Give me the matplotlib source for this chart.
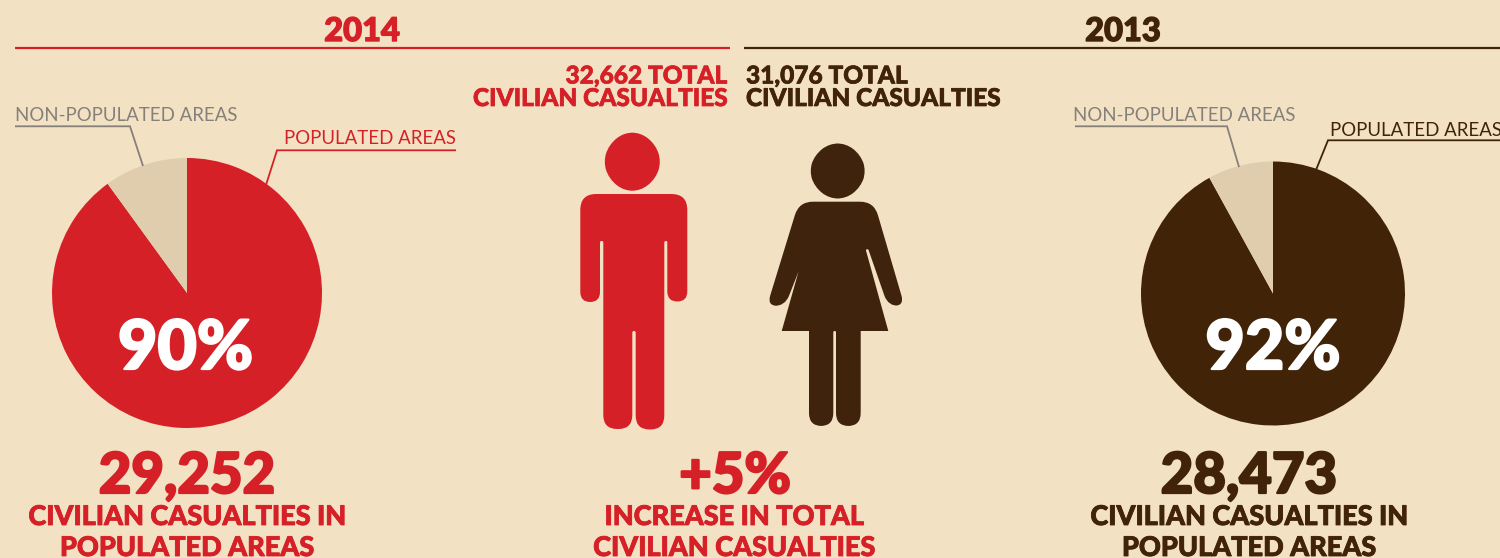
import numpy as np
import matplotlib
matplotlib.use("Agg")
import matplotlib.pyplot as plt
import matplotlib.patheffects as pe
from matplotlib.path import Path
from matplotlib.patches import PathPatch

W, H = 1500, 558
BG = "#F3E1C3"
RED = "#D62027"
BROWN = "#412307"
BROWN_ICON = "#3F230D"
WEDGE = "#E0CDAE"
GREY = "#85807A"

years = ["2014", "2013"]
populated_share = [90, 92]
non_populated_share = [10, 8]
total_casualties = ["32,662", "31,076"]
populated_casualties = ["29,252", "28,473"]
increase_label = "+5%"

HEAVY = dict(family="Lato", weight="black")
LIGHT = dict(family="Lato", weight="normal")

fig = plt.figure(figsize=(W / 100, H / 100), dpi=100, facecolor=BG)
ax = fig.add_axes([0, 0, 1, 1])
ax.set_facecolor(BG)


def Y(y):
    return H - y


def label(x, y, s, color, size, ha="center", font=HEAVY, stroke=0.0):
    t = ax.text(x, Y(y), s, color=color, fontsize=size, ha=ha, va="baseline", **font)
    if stroke:
        t.set_path_effects([pe.withStroke(linewidth=stroke, foreground=color)])


def line(xs, ys, color, lw=1.3):
    ax.plot(xs, [Y(v) for v in ys], color=color, lw=lw, solid_capstyle="butt",
            solid_joinstyle="miter")


def rounded_path(points):
    """Closed outline from (x, y, corner radius) triples, in top-down pixels."""
    verts, codes = [], []
    n = len(points)
    for i, (x, y, r) in enumerate(points):
        p = np.array([x, Y(y)], float)
        a = np.array([points[i - 1][0], Y(points[i - 1][1])], float)
        b = np.array([points[(i + 1) % n][0], Y(points[(i + 1) % n][1])], float)
        ua = (a - p) / np.linalg.norm(a - p)
        ub = (b - p) / np.linalg.norm(b - p)
        start = p + ua * r
        end = p + ub * r
        verts.append(start)
        codes.append(Path.MOVETO if i == 0 else Path.LINETO)
        if r > 0:
            verts += [p, end]
            codes += [Path.CURVE3, Path.CURVE3]
    verts.append(verts[0])
    codes.append(Path.CLOSEPOLY)
    return Path(verts, codes)


def head(cx, cy, rx, ry):
    """Slightly squared-off head built from a rounded outline."""
    k = 0.84
    pts = [
        (cx - rx * 0.3, cy - ry * 1.02, 9), (cx + rx * 0.3, cy - ry * 1.02, 9),
        (cx + rx * k, cy - ry * 0.6, 10), (cx + rx * 1.03, cy, 9),
        (cx + rx * k, cy + ry * 0.6, 10), (cx + rx * 0.3, cy + ry * 1.02, 9),
        (cx - rx * 0.3, cy + ry * 1.02, 9), (cx - rx * k, cy + ry * 0.6, 10),
        (cx - rx * 1.03, cy, 9), (cx - rx * k, cy - ry * 0.6, 10),
    ]
    return rounded_path(pts)


# Pies
for share, rest, c, cx, cy, r in [
    (populated_share[0], non_populated_share[0], RED, 187, 293, 135),
    (populated_share[1], non_populated_share[1], BROWN, 1273, 293.5, 132),
]:
    ax.pie([share, rest], colors=[c, WEDGE], startangle=90, counterclock=False,
           center=(cx, Y(cy)), radius=r, frame=True,
           wedgeprops=dict(linewidth=0))

# Section headers
label(362, 41, years[0], RED, 23.5, stroke=1.0)
label(1123, 41, years[1], BROWN, 23.5, stroke=1.0)
line([15, 730], [47.5, 47.5], RED, 1.6)
line([744, 1500], [47.5, 47.5], BROWN, 1.6)

# Totals
label(727, 83.5, f"{total_casualties[0]} TOTAL", RED, 17.6, ha="right", stroke=0.5)
label(727, 106, "CIVILIAN CASUALTIES", RED, 17.6, ha="right", stroke=0.5)
label(746, 83.5, f"{total_casualties[1]} TOTAL", BROWN, 17.6, ha="left", stroke=0.5)
label(746, 106, "CIVILIAN CASUALTIES", BROWN, 17.6, ha="left", stroke=0.5)

# Pie callouts
label(15, 121, "NON-POPULATED AREAS", GREY, 13.45, ha="left", font=LIGHT)
line([15, 130, 143], [126.3, 126.3, 166], GREY)
label(284, 144, "POPULATED AREAS", RED, 13.45, ha="left", font=LIGHT)
line([456, 277, 266], [150.3, 150.3, 185], RED)
label(1073, 121, "NON-POPULATED AREAS", GREY, 13.45, ha="left", font=LIGHT)
line([1075, 1227, 1239], [126.3, 126.3, 167], GREY)
label(1330, 136, "POPULATED AREAS", BROWN, 13.45, ha="left", font=LIGHT)
line([1500, 1328, 1316], [140.3, 140.3, 170], BROWN)

# Percentages on the pies
label(185.5, 369, f"{populated_share[0]}%", "white", 49, stroke=1.6)
label(1273, 369, f"{populated_share[1]}%", "white", 49, stroke=1.6)

# Figures below the pies
label(187, 493, populated_casualties[0], RED, 40.5, stroke=1.6)
label(187, 525, "CIVILIAN CASUALTIES IN", RED, 19.5, stroke=0.6)
label(187, 556, "POPULATED AREAS", RED, 19.5, stroke=0.6)
label(735, 493, increase_label, RED, 40.5, stroke=1.6)
label(734, 525, "INCREASE IN TOTAL", RED, 19.5, stroke=0.6)
label(734, 556, "CIVILIAN CASUALTIES", RED, 19.5, stroke=0.6)
label(1249, 493, populated_casualties[1], BROWN, 40.5, stroke=1.6)
label(1249, 525, "CIVILIAN CASUALTIES IN", BROWN, 19.5, stroke=0.6)
label(1249, 556, "POPULATED AREAS", BROWN, 19.5, stroke=0.6)

# Male figure
ax.add_patch(PathPatch(head(632.3, 161.7, 28, 28.5), facecolor=RED, lw=0))
man = [
    (580.3, 194, 16), (687.3, 194, 16), (687.3, 301.5, 10), (667.3, 301.5, 10),
    (667.3, 241, 1.4), (664.3, 241, 1.4), (664.3, 429.5, 14), (635.7, 429.5, 14),
    (635.7, 331, 1.6), (632.3, 331, 1.6), (632.3, 429, 14), (603.3, 429, 14),
    (603.3, 241, 1.4), (600, 241, 1.4), (600, 302, 10), (580.3, 302, 10),
]
ax.add_patch(PathPatch(rounded_path(man), facecolor=RED, lw=0))

# Female figure
ax.add_patch(PathPatch(head(837.7, 171, 27.5, 27), facecolor=BROWN_ICON, lw=0))
woman = [
    (799, 201.7, 14), (874, 201.7, 14), (904.5, 306, 11), (888, 306, 11),
    (868.2, 249, 1.2), (865.7, 249.5, 1.2), (888.3, 331, 0.01), (860.7, 331, 0.01),
    (860.7, 426, 13), (836, 426, 13), (836, 331, 1.3), (833.3, 331, 1.3),
    (833.3, 426, 13), (809, 426, 13), (809, 331, 0.01), (781.7, 331, 0.01),
    (804.8, 249.5, 1.2), (807, 250, 1.2), (785, 306, 11), (767, 306, 11),
]
ax.add_patch(PathPatch(rounded_path(woman), facecolor=BROWN_ICON, lw=0))

ax.set_xlim(0, W)
ax.set_ylim(0, H)
ax.set_aspect("auto")
ax.axis("off")
fig.savefig("out.png", dpi=100, facecolor=BG)
